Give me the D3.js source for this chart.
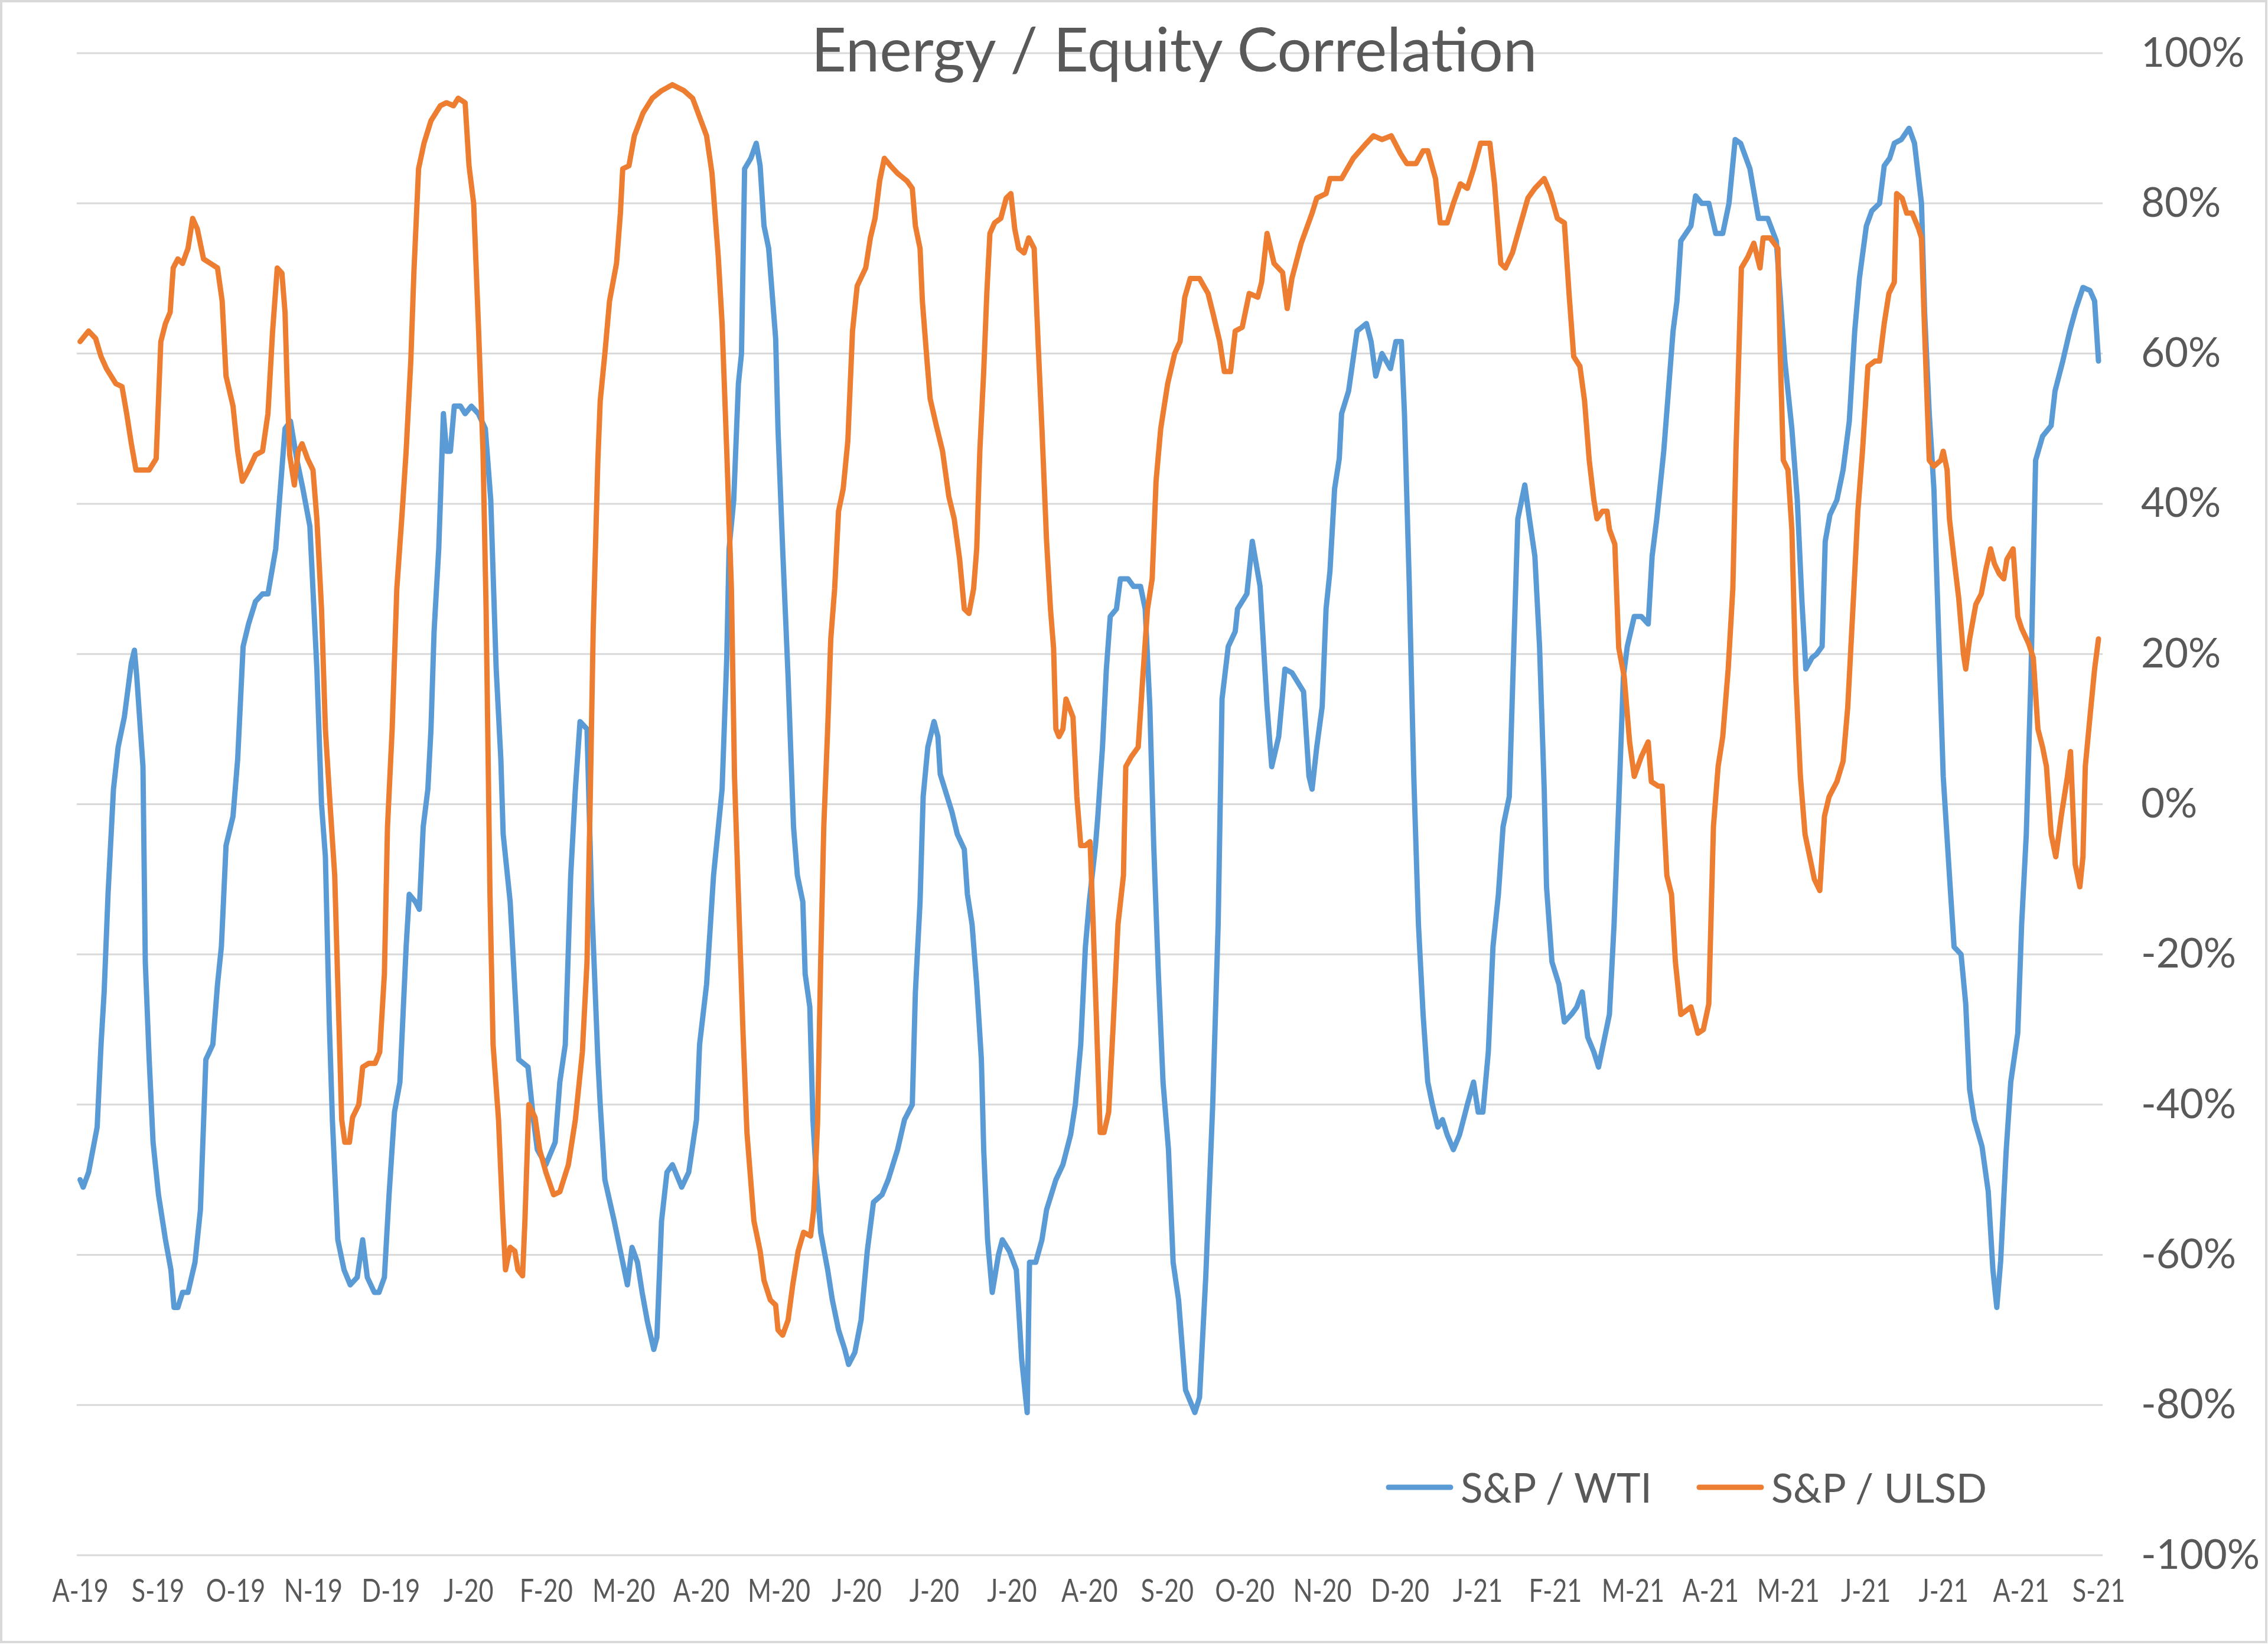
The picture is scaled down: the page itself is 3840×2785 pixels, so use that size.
<!DOCTYPE html>
<html>
<head>
<meta charset="utf-8">
<script src="https://cdn.jsdelivr.net/npm/d3@7"></script>
<style>
body { margin: 0; background: #fff; }
svg { display: block; font-family: Lato, 'Open Sans', sans-serif; }
</style>
</head>
<body>
<div id="graph"></div>
<script>
var xLabels = ['A-19','S-19','O-19','N-19','D-19','J-20','F-20','M-20','A-20','M-20','J-20','J-20','J-20','A-20',
  'S-20','O-20','N-20','D-20','J-21','F-21','M-21','A-21','M-21','J-21','J-21','A-21','S-21']

var yTicks = [-100, -80, -60, -40, -20, 0, 20, 40, 60, 80, 100]

var seriesNames = ['S&P / WTI', 'S&P / ULSD']

// [position in label periods, correlation %]
var wti = [[0,-50],[.04,-51],[.11,-49],[.22,-43],[.27,-32],[.31,-25],[.36,-12],[.43,2],[.49,7.6],[.57,11.6],[.66,18.8],[.70,20.5],[.73,17],[.81,5],[.84,-21],[.89,-34],[.94,-45],[1.01,-52],[1.10,-58],[1.17,-62],[1.21,-67],[1.26,-67],[1.32,-65],[1.39,-65],[1.48,-61],[1.55,-54],[1.62,-34],[1.71,-32],[1.77,-24],[1.82,-19],[1.88,-5.5],[1.97,-1.6],[2.03,6],[2.10,21],[2.17,24],[2.26,27],[2.35,28],[2.42,28],[2.52,34],[2.58,42],[2.64,50],[2.71,51],[2.79,46],[2.87,42],[2.96,37],[3.05,18],[3.11,0],[3.16,-7],[3.21,-29],[3.25,-42],[3.32,-58],[3.40,-62],[3.48,-64],[3.57,-63],[3.64,-58],[3.70,-63],[3.79,-65],[3.85,-65],[3.92,-63],[3.98,-52],[4.05,-41],[4.12,-37],
  [4.20,-19],[4.24,-12],[4.32,-13],[4.37,-14],[4.42,-3],[4.48,2],[4.52,10],[4.56,23],[4.62,34],[4.68,52],[4.72,47],[4.77,47],[4.82,53],[4.90,53],[4.96,52],[5.04,53],[5.13,52],[5.22,50],[5.29,40.5],[5.36,18],[5.42,6],[5.45,-4],[5.54,-13],[5.65,-34],[5.77,-35],[5.84,-42],[5.89,-46],[6.00,-48],[6.12,-45],[6.18,-37],[6.25,-32],[6.32,-9.5],[6.38,2],[6.44,11],[6.53,10],[6.59,-13],[6.67,-34],[6.70,-40],[6.76,-50],[6.88,-55.5],[6.96,-59.5],[7.05,-64],[7.11,-59],[7.18,-61],[7.24,-65],[7.31,-69],[7.39,-72.6],[7.43,-71],[7.49,-55.5],[7.56,-49],[7.63,-48],[7.75,-51],[7.84,-49],[7.94,-42],[7.98,-32],[8.07,-24],[8.16,-9.5],[8.27,2],[8.33,19.5],[8.36,34],[8.42,40.5],[8.48,56],[8.52,60],[8.56,84.6],
  [8.64,86],[8.71,88],[8.76,85],[8.81,77],[8.87,74],[8.96,62],[8.99,50],[9.05,34],[9.12,17],[9.19,-3],[9.24,-9.5],[9.31,-13],[9.34,-22.6],[9.40,-27],[9.44,-42],[9.48,-49],[9.54,-57],[9.63,-62],[9.69,-66],[9.77,-70],[9.85,-72.6],[9.90,-74.6],[9.98,-73],[10.06,-68.7],[10.14,-59.5],[10.22,-53],[10.33,-52],[10.41,-50],[10.53,-46],[10.62,-42],[10.72,-40],[10.76,-25],[10.82,-13],[10.86,1],[10.92,7.6],[11.00,11],[11.05,9],[11.08,4],[11.14,2],[11.23,-1],[11.30,-4],[11.39,-6],[11.43,-12],[11.49,-16],[11.55,-24],[11.61,-34],[11.64,-46],[11.69,-58],[11.75,-65],[11.83,-60],[11.88,-58],[11.97,-59.5],[12.06,-62],[12.13,-74],[12.20,-81],[12.23,-61],[12.31,-61],[12.39,-58],[12.45,-54],[12.57,-50],[12.66,-48],[12.76,-44],[12.82,-40],[12.89,-32],[12.95,-19],[13.00,-13],[13.08,-5.5],
  [13.11,-1.6],[13.17,7.6],[13.22,18],[13.27,25],[13.35,26],[13.40,30],[13.50,30],[13.57,29],[13.66,29],[13.72,26],[13.78,13],[13.83,-5.5],[13.89,-22.6],[13.95,-37],[14.02,-46],[14.08,-61],[14.15,-66],[14.24,-78],[14.36,-81],[14.42,-79],[14.50,-63],[14.59,-40],[14.66,-16],[14.71,14],[14.79,21],[14.88,23],[14.91,26],[15.03,28],[15.10,35],[15.20,29],[15.29,13],[15.35,5],[15.44,9],[15.52,18],[15.61,17.5],[15.76,15],[15.83,3.7],[15.87,2],[15.93,7.6],[16.00,13],[16.05,26],[16.10,31],[16.16,42],[16.22,46],[16.25,52],[16.34,55],[16.45,63],[16.57,64],[16.63,61.6],[16.69,57],[16.77,60],[16.88,58],[16.95,61.6],[17.02,61.6],[17.06,52],[17.12,30],[17.18,3.7],[17.24,-16],[17.30,-28],[17.36,-37],
  [17.42,-40],[17.49,-43],[17.55,-42],[17.61,-44],[17.69,-46],[17.77,-44],[17.87,-40],[17.95,-37],[18.01,-41],[18.07,-41],[18.14,-33],[18.20,-19],[18.27,-12],[18.33,-3],[18.41,1],[18.46,18],[18.52,38],[18.61,42.5],[18.67,38],[18.74,33],[18.80,21],[18.86,2],[18.89,-11],[18.96,-21],[19.05,-24],[19.12,-29],[19.21,-28],[19.28,-27],[19.35,-25],[19.42,-31],[19.50,-33],[19.56,-35],[19.64,-31],[19.70,-28],[19.76,-16],[19.82,0],[19.88,17],[19.93,21],[20.02,25],[20.11,25],[20.20,24],[20.25,33],[20.31,38],[20.40,47],[20.46,55],[20.52,63],[20.57,67],[20.62,75],[20.75,77],[20.81,81],[20.89,80],[20.98,80],[21.07,76],[21.16,76],[21.24,80],[21.32,88.5],[21.39,88],[21.51,84.6],[21.62,78],[21.74,78],[21.85,75],
  [21.96,59],[22.05,50],[22.12,40.5],[22.18,27],[22.23,18],[22.31,19.5],[22.37,20],[22.44,21],[22.48,35],[22.54,38.5],[22.63,40.5],[22.71,44.5],[22.79,51],[22.86,63],[22.92,70],[23.01,77],[23.08,79],[23.18,80],[23.24,85],[23.31,86],[23.37,88],[23.46,88.5],[23.56,90],[23.63,88],[23.72,80],[23.76,65.5],[23.82,52],[23.88,42],[23.94,23],[24.00,3.7],[24.08,-9.5],[24.14,-19],[24.23,-20],[24.29,-26.6],[24.34,-38],[24.40,-42],[24.50,-45.6],[24.58,-51.6],[24.64,-62],[24.69,-67],[24.74,-60.8],[24.81,-46.3],[24.87,-37],[24.96,-30.5],[25.01,-16],[25.07,-4],[25.13,17],[25.19,45.8],[25.28,49],[25.39,50.4],[25.44,55],[25.54,59],[25.63,63],[25.71,66],[25.80,68.8],[25.89,68.4],[25.95,67],[26,59]]

var ulsd = [[0,61.6],[.11,63],[.20,62],[.27,59.6],[.34,58],[.46,56],[.54,55.6],[.60,52],[.66,48],[.72,44.5],[.81,44.5],[.89,44.5],[.98,46],[1.04,61.6],[1.10,64],[1.16,65.5],[1.20,71.4],[1.26,72.6],[1.32,72],[1.39,74],[1.45,78],[1.51,76.6],[1.59,72.6],[1.68,72],[1.77,71.4],[1.83,67],[1.88,57],[1.97,53],[2.03,47],[2.09,43],[2.17,44.5],[2.26,46.5],[2.35,47],[2.42,52],[2.48,63],[2.54,71.4],[2.60,70.7],[2.64,65.5],[2.67,55],[2.70,46.5],[2.76,42.5],[2.81,47],[2.86,48],[2.93,46],[3.00,44.5],[3.05,38],[3.11,26],[3.16,10],[3.22,0],[3.28,-9.5],[3.32,-24],[3.37,-42],[3.41,-45],[3.47,-45],[3.51,-41.7],[3.59,-40],[3.64,-35],[3.72,-34.5],[3.80,-34.5],[3.86,-33],[3.92,-22.6],[3.96,-3],[4.02,10],[4.08,28.7],[4.15,39],
  [4.20,47],[4.26,59],[4.30,70.8],[4.36,84.6],[4.43,88],[4.52,91],[4.64,93],[4.72,93.4],[4.81,93],[4.87,94],[4.96,93.4],[5.01,85],[5.07,80],[5.13,64],[5.19,47],[5.23,26],[5.28,-12],[5.32,-32],[5.39,-42],[5.44,-54],[5.48,-62],[5.54,-59],[5.60,-59.5],[5.64,-62],[5.70,-62.8],[5.73,-55.5],[5.78,-40],[5.86,-41.7],[5.92,-46],[6.00,-49],[6.10,-52],[6.18,-51.6],[6.29,-48],[6.38,-42],[6.47,-33],[6.53,-21],[6.57,0],[6.61,23.4],[6.67,45.8],[6.70,53.7],[6.76,60],[6.82,67],[6.91,72],[6.96,78.7],[6.99,84.6],[7.07,85],[7.14,89],[7.25,92],[7.37,94],[7.49,95],[7.63,95.8],[7.78,95],[7.89,94],[8.07,89],[8.14,84],[8.22,73],[8.27,64],[8.33,47],[8.39,28.7],[8.43,3.7],[8.48,-12],[8.54,-30.5],[8.59,-43.7],
  [8.68,-55.5],[8.76,-59.5],[8.81,-63.4],[8.89,-66],[8.96,-66.7],[8.99,-70],[9.05,-70.7],[9.12,-68.7],[9.18,-64],[9.25,-59.5],[9.32,-57],[9.41,-57.5],[9.45,-54],[9.50,-42.4],[9.54,-21],[9.58,-3],[9.63,10],[9.67,22],[9.72,28.7],[9.77,39],[9.83,42],[9.89,48.4],[9.95,63],[10.01,69],[10.12,71.4],[10.18,75.4],[10.24,78],[10.30,83],[10.36,86],[10.44,85],[10.53,84],[10.65,83],[10.72,82],[10.76,77],[10.82,74],[10.85,67],[10.91,59],[10.95,54],[11.03,50.4],[11.11,47],[11.19,41],[11.26,38],[11.33,32.6],[11.39,26],[11.45,25.4],[11.51,28.7],[11.55,34],[11.59,47],[11.64,57.6],[11.68,68],[11.72,76],[11.78,77.4],[11.86,78],[11.93,80.7],[11.99,81.3],[12.04,76.6],[12.09,74],[12.16,73.4],[12.22,75.4],[12.29,74],[12.34,61.6],[12.39,50],[12.45,35],[12.50,26],[12.54,20.8],[12.57,10],[12.61,9],[12.66,10],[12.70,14],[12.79,11.6],[12.84,1],[12.89,-5.5],[12.95,-5.5],
  [13.01,-5],[13.05,-16],[13.09,-28],[13.14,-43.7],[13.19,-43.7],[13.25,-41],[13.31,-29],[13.37,-16],[13.44,-9.5],[13.47,5],[13.54,6.3],[13.63,7.6],[13.69,17],[13.75,26],[13.81,30],[13.86,43],[13.92,50],[14.01,56],[14.10,60],[14.17,61.6],[14.23,67.5],[14.30,70],[14.42,70],[14.53,68],[14.59,65.5],[14.68,61.6],[14.74,57.6],[14.82,57.6],[14.88,63],[14.97,63.5],[15.06,68],[15.17,67.5],[15.22,69.5],[15.29,76],[15.38,72],[15.49,70.8],[15.55,66],[15.61,70],[15.73,74.7],[15.87,78.7],[15.93,80.7],[16.05,81.3],[16.10,83.3],[16.25,83.3],[16.40,86],[16.57,88],[16.66,89],[16.77,88.5],[16.89,89],[17.01,86.6],[17.09,85.3],[17.21,85.3],[17.30,87],[17.36,87],
  [17.46,83.3],[17.52,77.4],[17.61,77.4],[17.69,80],[17.78,82.6],[17.87,82],[17.95,84.6],[18.04,88],[18.16,88],[18.22,82.6],[18.30,72],[18.36,71.4],[18.45,73.4],[18.54,76.7],[18.65,80.7],[18.74,82],[18.86,83.3],[18.94,81.3],[19.03,78],[19.12,77.4],[19.18,68],[19.24,59.6],[19.32,58.3],[19.38,53.7],[19.44,45.8],[19.50,40.5],[19.54,38],[19.61,39],[19.67,39],[19.70,36.6],[19.77,34.6],[19.82,20.8],[19.89,17],[19.96,8.3],[20.02,3.7],[20.11,6.3],[20.20,8.3],[20.24,3],[20.33,2.4],[20.38,2.4],[20.44,-9.5],[20.50,-12],[20.55,-21],[20.62,-28],[20.75,-27],[20.84,-30.5],[20.91,-30],[20.98,-26.6],[21.04,-3],[21.10,5],[21.16,9],[21.23,18],[21.29,28.7],[21.33,47],[21.40,71.4],[21.48,72.8],[21.56,74.7],[21.64,71.4],[21.68,75.4],[21.77,75.4],
  [21.87,74],[21.90,60],[21.94,45.8],[22.00,44.5],[22.05,36.6],[22.10,17],[22.16,3.7],[22.22,-4],[22.28,-7],[22.34,-10],[22.41,-11.5],[22.47,-1.6],[22.53,1],[22.63,3],[22.71,5.7],[22.77,12.9],[22.85,28.7],[22.90,39],[22.96,47],[23.03,58.3],[23.12,59],[23.18,59],[23.24,64],[23.30,68],[23.37,69.5],[23.40,81.3],[23.47,80.7],[23.53,78.7],[23.60,78.7],[23.68,76.7],[23.72,75.4],[23.76,63],[23.82,45.8],[23.88,45],[23.97,45.8],[24.00,47],[24.05,44.5],[24.08,38],[24.14,32.6],[24.20,27.4],[24.26,20],[24.29,18],[24.34,22],[24.42,26.6],[24.49,28],[24.55,31.3],[24.61,34],[24.66,32],[24.72,30.7],[24.78,30],[24.82,32.6],[24.90,34],[24.96,25],[25.01,23.4],[25.10,21.4],[25.16,19.5],[25.22,10],[25.28,7.6],[25.33,5],[25.39,-4],[25.45,-7],[25.52,-1.6],[25.60,3.7],[25.64,7],[25.70,-8],[25.76,-11],[25.80,-7],[25.83,5],[25.89,11.6],[25.95,18],[26,22]]

var colors = ['#5b9bd5', '#ed7d31']
var textColor = '#595959'

var width = 3840, height = 2785

var svg = d3.select('#graph').append('svg')
  .attr('width', width)
  .attr('height', height)

svg.append('rect')
  .attr('x', 2).attr('y', 2)
  .attr('width', width - 5).attr('height', height - 7)
  .attr('fill', '#fff')
  .attr('stroke', '#d9d9d9')
  .attr('stroke-width', 4)

var x = d3.scaleLinear().domain([0, xLabels.length - 1]).range([135.6, 3553])
var y = d3.scaleLinear().domain([-100, 100]).range([2633, 90])

svg.append('g').selectAll('line').data(yTicks).join('line')
  .attr('x1', 130).attr('x2', 3560)
  .attr('y1', d => y(d)).attr('y2', d => y(d))
  .attr('stroke', '#d9d9d9')
  .attr('stroke-width', 3)

var yAxis = d3.axisRight(y)
  .tickValues(yTicks)
  .tickFormat(d => d + '%')
  .tickSize(0)
  .tickPadding(0)

svg.append('g')
  .attr('transform', 'translate(3625,0)')
  .call(yAxis)
  .call(g => g.select('.domain').remove())
  .attr('font-family', null)
  .attr('font-size', 69)
  .selectAll('text').attr('fill', textColor)

var xAxis = d3.axisBottom(x)
  .tickValues(d3.range(xLabels.length))
  .tickFormat(i => xLabels[i])
  .tickSize(0)
  .tickPadding(41)

svg.append('g')
  .attr('transform', 'translate(0,2633)')
  .call(xAxis)
  .call(g => g.select('.domain').remove())
  .attr('font-family', null)
  .attr('font-size', 54)
  .selectAll('text')
  .attr('fill', textColor)
  .attr('transform', 'scale(0.8,1)')

var line = d3.line()
  .x(d => x(d[0]))
  .y(d => y(d[1]))

svg.append('g').selectAll('path').data([wti, ulsd]).join('path')
  .attr('d', line)
  .attr('fill', 'none')
  .attr('stroke', (d, i) => colors[i])
  .attr('stroke-width', 9)
  .attr('stroke-linejoin', 'round')
  .attr('stroke-linecap', 'round')

// title, sized to the width it has in the picture
var title = svg.append('text')
  .attr('x', 1988).attr('y', 121)
  .attr('text-anchor', 'middle')
  .attr('font-size', 104)
  .attr('fill', textColor)
  .text('Energy / Equity Correlation')
var tw = title.node().getComputedTextLength()
title.attr('font-size', 104 * 1229 / tw)

var legendX = [2351, 2877]
var legendTextW = [324, 365]
var legend = svg.append('g').selectAll('g').data(seriesNames).join('g')
  .attr('transform', (d, i) => 'translate(' + legendX[i] + ',2518)')

legend.append('line')
  .attr('x1', 0).attr('x2', 105)
  .attr('stroke', (d, i) => colors[i])
  .attr('stroke-width', 9)
  .attr('stroke-linecap', 'round')

legend.append('text')
  .attr('x', 122).attr('y', 26)
  .attr('font-size', 72)
  .attr('fill', textColor)
  .text(d => d)
  .each(function(d, i){
    var w = this.getComputedTextLength()
    d3.select(this).attr('font-size', 72 * legendTextW[i] / w)
  })
</script>
</body>
</html>
